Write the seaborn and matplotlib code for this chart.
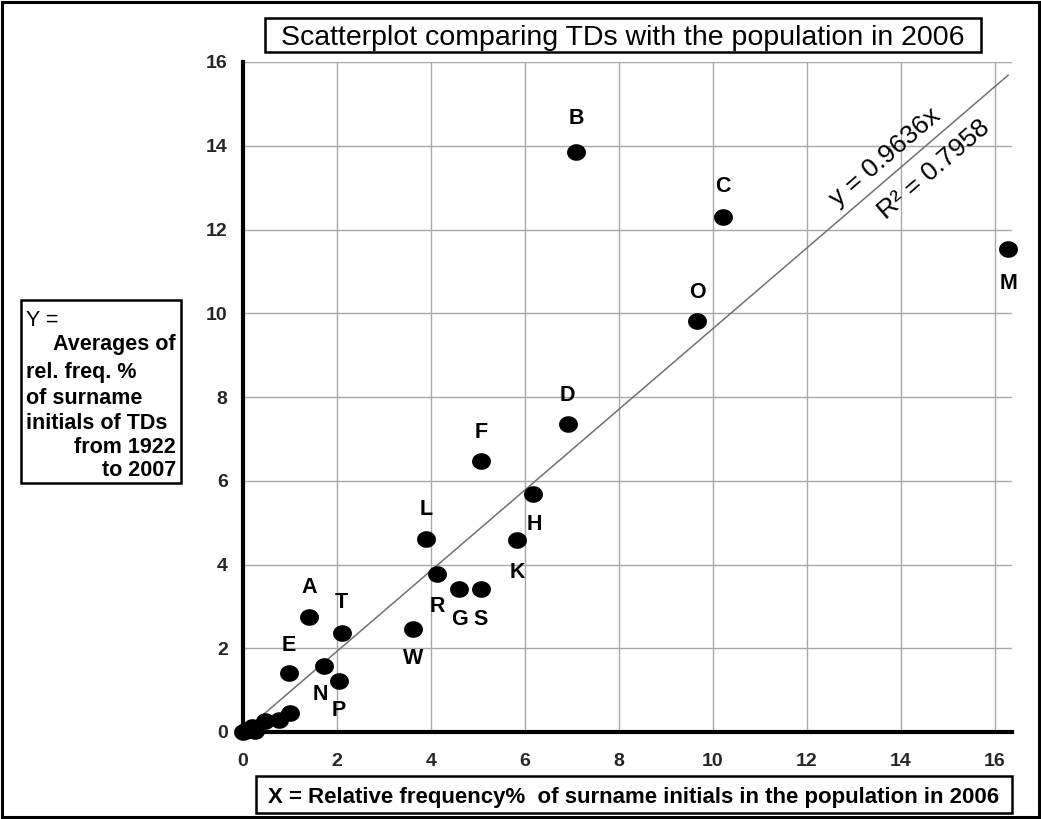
import matplotlib
matplotlib.use("Agg")
import matplotlib.pyplot as plt
import matplotlib.patches as mpatches
import matplotlib.path as mpath
import numpy as np
import pandas as pd
import seaborn as sns

# ---- data ----
letters = ["B", "C", "O", "M", "D", "F", "H", "K", "L", "R", "G", "S", "W",
           "A", "T", "E", "N", "P", "I", "J", "Q", "U", "V", "X", "Y", "Z"]
pop_pct = [7.09, 10.21, 9.66, 16.28, 6.91, 5.06, 6.17, 5.83, 3.89, 4.13, 4.60, 5.06, 3.62,
           1.40, 2.10, 0.98, 1.72, 2.04, 1.00, 0.77, 0.47, 0.19, 0.05, 0.25, 0.00, 0.12]
td_pct = [13.84, 12.31, 9.81, 11.53, 7.35, 6.47, 5.68, 4.58, 4.60, 3.77, 3.41, 3.41, 2.46,
          2.75, 2.37, 1.40, 1.58, 1.22, 0.45, 0.29, 0.27, 0.12, 0.02, 0.02, 0.00, 0.05]
shown = ["B", "C", "O", "M", "D", "F", "H", "K", "L", "R", "G", "S", "W",
         "A", "T", "E", "N", "P"]
slope = 0.9636
r2 = 0.7958
x_ticks = [0, 2, 4, 6, 8, 10, 12, 14, 16]
y_ticks = [0, 2, 4, 6, 8, 10, 12, 14, 16]
title = "Scatterplot comparing TDs with the population in 2006"
x_title = "X = Relative frequency%  of surname initials in the population in 2006"
y_title_lines = ["Y =", "Averages of", "rel. freq. %", "of surname",
                 "initials of TDs", "from 1922", "to 2007"]

# label placement (pixel offsets of letter from dot)
label_offset = {"B": (0, 34), "C": (0, 30), "O": (0, 29), "M": (0, -34), "D": (0, 29),
                "F": (0, 29), "H": (1, -30), "K": (0, -32), "L": (0, 30), "R": (0, -32),
                "G": (0, -30), "S": (0, -30), "W": (0, -30), "A": (0, 29), "T": (0, 30),
                "E": (0, 28), "N": (-3, -29), "P": (0, -30)}

df = pd.DataFrame({"letter": letters, "x": pop_pct, "y": td_pct})

sns.set_theme(style="white")
plt.rcParams["font.family"] = ["Liberation Sans", "DejaVu Sans"]

W, H = 1041, 819
fig = plt.figure(figsize=(W / 100, H / 100), dpi=100)
fig.patch.set_facecolor("white")
ax = fig.add_axes([243 / W, 1 - 732 / H, (1012 - 243) / W, (732 - 62) / H])
ax.set_facecolor("white")

# regression line through origin
xl = np.array([0, max(pop_pct)])
line_df = pd.DataFrame({"x": xl, "y": slope * xl})
sns.lineplot(data=line_df, x="x", y="y", ax=ax, color="#707070", linewidth=1.1, zorder=2)

t = np.linspace(0, 2 * np.pi, 60)
ellipse = mpath.Path(np.column_stack([np.cos(t), 0.88 * np.sin(t)]))
sns.scatterplot(data=df, x="x", y="y", ax=ax, color="black", s=185, marker=ellipse,
                edgecolor="black", linewidth=0, zorder=4, clip_on=False, legend=False)

for _, r in df.iterrows():
    if r["letter"] in shown:
        dx, dy = label_offset[r["letter"]]
        ax.annotate(r["letter"], (r["x"], r["y"]), xytext=(dx, dy), textcoords="offset pixels",
                    ha="center", va="center", fontsize=15.5, fontweight="bold", color="black",
                    annotation_clip=False, zorder=5)

ax.set_xlim(0, 16.36)
ax.set_ylim(0, 16)
ax.set_xticks(x_ticks)
ax.set_yticks(y_ticks)
ax.set_xticks(np.arange(0, 17, 1), minor=True)
ax.set_yticks(np.arange(0, 17, 1), minor=True)
ax.grid(True, which="major", color="#a8a8a8", linewidth=1.0, zorder=0)
ax.set_axisbelow(True)
for s in ["top", "right"]:
    ax.spines[s].set_visible(False)
for s in ["left", "bottom"]:
    ax.spines[s].set_color("black")
    ax.spines[s].set_linewidth(3)
    ax.spines[s].set_zorder(3)
ax.tick_params(which="both", direction="in", length=6, width=1.5, color="black")
ax.tick_params(axis="x", which="major", labelsize=14, pad=15)
ax.tick_params(axis="y", which="major", labelsize=14, pad=11)
for lbl in ax.get_xticklabels() + ax.get_yticklabels():
    lbl.set_fontweight("bold")
ax.set_xlabel("")
ax.set_ylabel("")

# regression equation text
ang = np.degrees(np.arctan(slope * (670 / 16) / (769 / 16.36)))
nx, ny = -np.sin(np.radians(ang)), np.cos(np.radians(ang))
ax.annotate(f"y = {slope}x", (13.91, slope * 13.91), xytext=(20 * nx, 20 * ny),
            textcoords="offset pixels", rotation=ang, rotation_mode="anchor",
            ha="center", va="center_baseline", fontsize=19, color="black")
ax.annotate(f"R² = {r2}", (14.38, slope * 14.38), xytext=(-21 * nx, -21 * ny),
            textcoords="offset pixels", rotation=ang, rotation_mode="anchor",
            ha="center", va="center_baseline", fontsize=19, color="black")


def box(x0, y0, x1, y1):
    fig.patches.append(mpatches.Rectangle((x0 / W, 1 - y1 / H), (x1 - x0) / W, (y1 - y0) / H,
                                          transform=fig.transFigure, facecolor="white",
                                          edgecolor="black", linewidth=1.8, zorder=1))


# title box
box(265, 18, 981, 52)
fig.text(623 / W, 1 - 35 / H, title, ha="center", va="center_baseline", fontsize=20.5,
         color="black", zorder=2)

# x label box
box(256, 776, 1012, 813)
fig.text(634 / W, 1 - 795 / H, x_title, ha="center", va="center_baseline", fontsize=16,
         fontweight="bold", color="black", zorder=2)

# y label box
box(21, 300, 181, 483)
ylayout = [("left", 26, 318, "normal"), ("right", 176, 342, "bold"), ("left", 26, 370, "bold"),
           ("left", 26, 396, "bold"), ("left", 26, 421, "bold"), ("right", 176, 445, "bold"),
           ("right", 176, 468, "bold")]
for txt, (ha, px, py, fw) in zip(y_title_lines, ylayout):
    fig.text(px / W, 1 - py / H, txt, ha=ha, va="center_baseline", fontsize=15.5,
             fontweight=fw, color="black", zorder=2)

# outer frame
fig.patches.append(mpatches.Rectangle((2 / W, 2 / H), (W - 4) / W, (H - 4) / H,
                                      transform=fig.transFigure, fill=False,
                                      edgecolor="black", linewidth=2.2))

fig.savefig("out.png", dpi=100, facecolor="white")
